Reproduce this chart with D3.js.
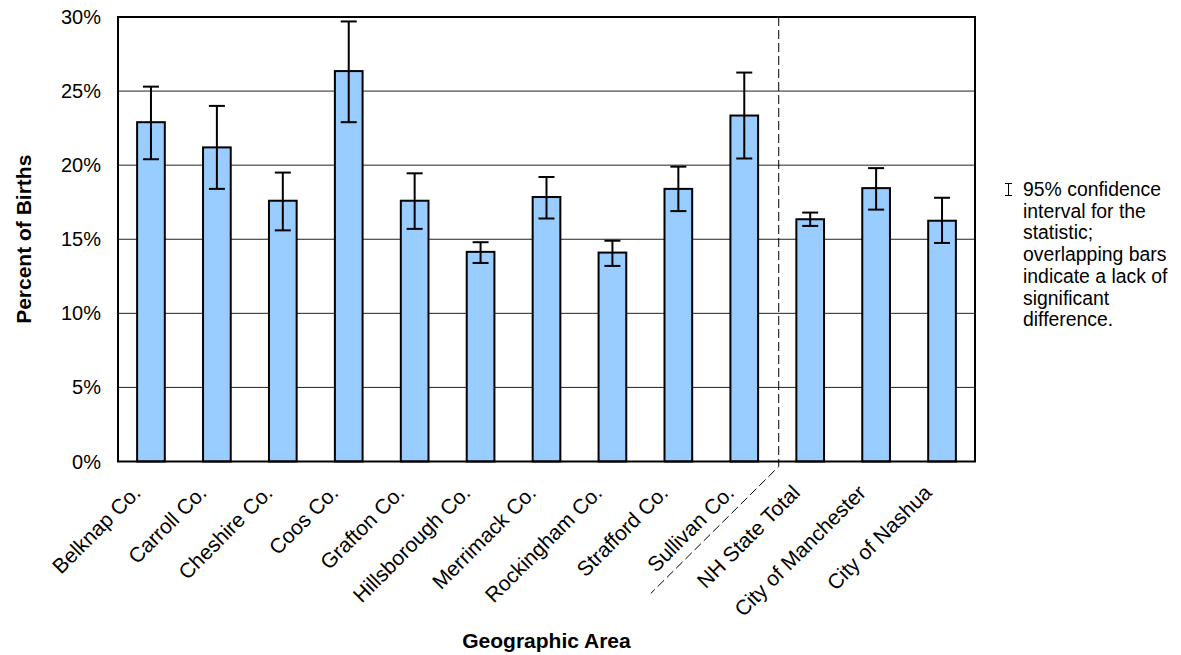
<!DOCTYPE html>
<html>
<head>
<meta charset="utf-8">
<script src="https://cdn.jsdelivr.net/npm/d3@7"></script>
<style>
  html, body { margin: 0; padding: 0; background: #fff; }
  svg { display: block; font-family: "Liberation Sans", Arial, sans-serif; }
</style>
</head>
<body>
<svg id="chart" width="1181" height="655"></svg>
<script>
// Percent of births by geographic area, with 95% confidence intervals
const categories = [
  "Belknap Co.", "Carroll Co.", "Cheshire Co.", "Coos Co.", "Grafton Co.",
  "Hillsborough Co.", "Merrimack Co.", "Rockingham Co.", "Strafford Co.",
  "Sullivan Co.", "NH State Total", "City of Manchester", "City of Nashua"
];
const values = [22.9, 21.2, 17.6, 26.35, 17.6, 14.15, 17.85, 14.1, 18.4, 23.35, 16.35, 18.45, 16.25];
const ciLow  = [20.4, 18.4, 15.6, 22.9, 15.7, 13.4, 16.4, 13.2, 16.9, 20.45, 15.9, 17.0, 14.75];
const ciHigh = [25.3, 24.0, 19.5, 29.7, 19.45, 14.8, 19.2, 14.9, 19.9, 26.25, 16.8, 19.8, 17.8];
const yTicks = [0, 5, 10, 15, 20, 25, 30];
const legendLines = [
  "95% confidence", "interval for the", "statistic;", "overlapping bars",
  "indicate a lack of", "significant", "difference."
];
// first category after the county/state divider
const dividerBefore = "NH State Total";

const svg = d3.select("#chart");
const plot = { left: 118, top: 17, right: 975, bottom: 461.5 };

const x = d3.scaleBand()
  .domain(categories)
  .range([plot.left, plot.right])
  .paddingInner(0.58)
  .paddingOuter(0.29);

const y = d3.scaleLinear()
  .domain([0, 30])
  .range([plot.bottom, plot.top]);

// horizontal gridlines
svg.append("g")
  .selectAll("line")
  .data(yTicks.filter(t => t > 0 && t < 30))
  .join("line")
  .attr("x1", plot.left).attr("x2", plot.right)
  .attr("y1", d => y(d)).attr("y2", d => y(d))
  .attr("stroke", "#222").attr("stroke-width", 1);

// y tick labels
svg.append("g")
  .selectAll("text")
  .data(yTicks)
  .join("text")
  .attr("x", 101)
  .attr("y", d => y(d) + 7)
  .attr("text-anchor", "end")
  .attr("font-size", 20)
  .attr("fill", "#000")
  .text(d => d + "%");

// bars
svg.append("g")
  .selectAll("rect")
  .data(categories)
  .join("rect")
  .attr("x", d => x(d))
  .attr("width", x.bandwidth())
  .attr("y", (d, i) => y(values[i]))
  .attr("height", (d, i) => y(0) - y(values[i]))
  .attr("fill", "#99ccff")
  .attr("stroke", "#000")
  .attr("stroke-width", 2);

// error bars
const capHalf = 8;
const err = svg.append("g").attr("stroke", "#000").attr("stroke-width", 2);
categories.forEach((c, i) => {
  const cx = x(c) + x.bandwidth() / 2;
  err.append("line").attr("x1", cx).attr("x2", cx)
    .attr("y1", y(ciLow[i])).attr("y2", y(ciHigh[i]));
  err.append("line").attr("x1", cx - capHalf).attr("x2", cx + capHalf)
    .attr("y1", y(ciHigh[i])).attr("y2", y(ciHigh[i]));
  err.append("line").attr("x1", cx - capHalf).attr("x2", cx + capHalf)
    .attr("y1", y(ciLow[i])).attr("y2", y(ciLow[i]));
});

// plot frame
svg.append("rect")
  .attr("x", plot.left).attr("y", plot.top)
  .attr("width", plot.right - plot.left)
  .attr("height", plot.bottom - plot.top)
  .attr("fill", "none").attr("stroke", "#000").attr("stroke-width", 2);

// dashed divider between counties and state/city totals
const divX = x(dividerBefore) - x.step() * x.paddingInner() / 2 + 1.5;
svg.append("path")
  .attr("d", `M${divX},${plot.top} L${divX},${plot.bottom + 5} L${divX - 128},${plot.bottom + 132}`)
  .attr("fill", "none")
  .attr("stroke", "#000")
  .attr("stroke-width", 1)
  .attr("stroke-dasharray", "9,4");

// x tick labels, rotated
svg.append("g")
  .selectAll("text")
  .data(categories)
  .join("text")
  .attr("transform", d => {
    const cx = x(d) + x.bandwidth() / 2;
    return `translate(${cx - 9},${494}) rotate(-45)`;
  })
  .attr("text-anchor", "end")
  .attr("font-size", 21)
  .attr("fill", "#000")
  .text(d => d);

// axis titles
svg.append("text")
  .attr("transform", `translate(31,${(plot.top + plot.bottom) / 2}) rotate(-90)`)
  .attr("text-anchor", "middle")
  .attr("font-size", 21)
  .attr("font-weight", "bold")
  .text("Percent of Births");

svg.append("text")
  .attr("x", (plot.left + plot.right) / 2)
  .attr("y", 648)
  .attr("text-anchor", "middle")
  .attr("font-size", 21)
  .attr("font-weight", "bold")
  .text("Geographic Area");

// legend: error bar symbol and explanation
const lg = svg.append("g");
lg.append("path")
  .attr("d", "M1005,183.5 H1012 M1008.5,183.5 V195.5 M1005,195.5 H1012")
  .attr("stroke", "#000").attr("stroke-width", 1).attr("fill", "none");
lg.append("text")
  .attr("x", 1023)
  .attr("y", 196)
  .attr("font-size", 19.4)
  .attr("fill", "#000")
  .selectAll("tspan")
  .data(legendLines)
  .join("tspan")
  .attr("x", 1023)
  .attr("dy", (d, i) => i === 0 ? 0 : 21.7)
  .text(d => d);
</script>
</body>
</html>
